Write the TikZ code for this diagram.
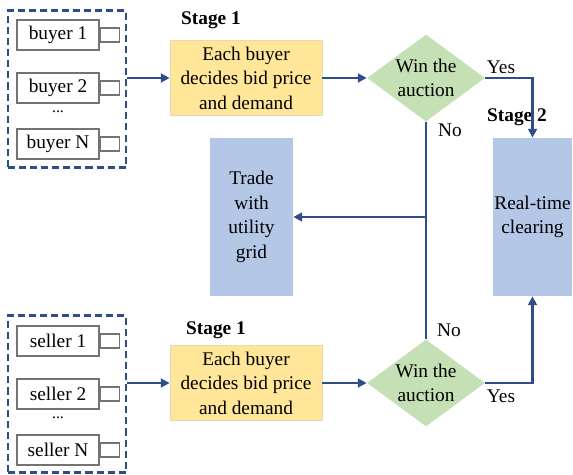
\documentclass[tikz,border=0pt]{standalone}
\usepackage{fontspec}
\setmainfont{Liberation Serif}
\usetikzlibrary{arrows.meta,shapes.geometric}

\definecolor{flowblue}{RGB}{47,77,137}
\definecolor{stagefill}{RGB}{255,230,153}
\definecolor{stageline}{RGB}{228,218,180}
\definecolor{decfill}{RGB}{197,224,180}
\definecolor{gridfill}{RGB}{180,199,231}

\begin{document}
\begin{tikzpicture}[x=0.02cm,y=-0.02cm,font=\fontsize{11}{14}\selectfont]
\useasboundingbox (0,0) rectangle (573,475);

% dashed groups
\begin{scope}[every node/.style={draw=flowblue,line width=1.3pt,dash pattern=on 4pt off 2.3pt,minimum width=2.36cm,minimum height=3.14cm}]
    \node (buyers) at (67,89) {};
    \node (sellers) at (67,394) {};
\end{scope}

\begin{scope}[every node/.style={draw=black!55,line width=0.75pt,fill=white,minimum width=1.64cm,minimum height=0.6cm,inner sep=0pt}]
    \node (buyer1) at (58,35) {buyer 1};
    \node (buyer2) at (58,88) {buyer 2};
    \node (buyerN) at (58,144) {buyer N};
    \node (seller1) at (58,341) {seller 1};
    \node (seller2) at (58,394) {seller 2};
    \node (sellerN) at (58,450) {seller N};
\end{scope}

% little ports on the right of each agent
\begin{scope}[every node/.style={draw=black!55,line width=0.75pt,fill=white,minimum width=0.38cm,minimum height=0.28cm,inner sep=0pt,anchor=west}]
    \node (port_b1) at (buyer1.east) {};
    \node (port_b2) at (buyer2.east) {};
    \node (port_bN) at (buyerN.east) {};
    \node (port_s1) at (seller1.east) {};
    \node (port_s2) at (seller2.east) {};
    \node (port_sN) at (sellerN.east) {};
\end{scope}

\node[font=\fontsize{9}{11}\selectfont] (buyer_dots) at (58,112) {...};
\node[font=\fontsize{9}{11}\selectfont] (seller_dots) at (58,418) {...};

\begin{scope}[every node/.style={fill=stagefill,draw=stageline,minimum width=3.04cm,minimum height=1.5cm,align=center,inner sep=1pt}]
    \node (bid_buy) at (246,78) {Each buyer\\decides bid price\\and demand};
    \node (bid_sell) at (246,383) {Each buyer\\decides bid price\\and demand};
\end{scope}

\begin{scope}[every node/.style={diamond,fill=decfill,shape aspect=1.36,inner sep=0pt,minimum width=2.36cm,minimum height=1.74cm,align=center}]
    \node (win_buy) at (426,78) {Win the\\auction};
    \node (win_sell) at (426,383) {Win the\\auction};
\end{scope}

\begin{scope}[every node/.style={fill=gridfill,minimum height=3.16cm,align=center,inner sep=1pt}]
    \node[minimum width=1.66cm] (utility) at (251.5,217) {Trade\\with\\utility\\grid};
    \node[minimum width=1.58cm] (clearing) at (532.5,217) {Real-time\\clearing};
\end{scope}

% stage titles and branch labels
\node (stage1_buy) at (211,20) {\textbf{Stage 1}};
\node (stage1_sell) at (216,330) {\textbf{Stage 1}};
\node (stage2) at (517,117) {\textbf{Stage 2}};
\node (yes_buy) at (501,67) {Yes};
\node (no_buy) at (450,130) {No};
\node (no_sell) at (449,330) {No};
\node (yes_sell) at (501,396) {Yes};

\begin{scope}[>={Triangle[length=5pt,width=5pt]},
              link/.style={draw=flowblue,line width=1.4pt},
              every edge/.style={link}]
    \path [->] (buyers.east |- bid_buy.west) edge (bid_buy.west);
    \path [->] (bid_buy) edge (win_buy);
    \path [->] (sellers.east |- bid_sell.west) edge (bid_sell.west);
    \path [->] (bid_sell) edge (win_sell);
    \path (win_buy) edge (win_sell);
    \path [->] (win_buy.south |- utility.east) edge (utility.east);
    \draw [link,->] (win_buy.east) -| (clearing.north);
    \draw [link,->] (win_sell.east) -| (clearing.south);
\end{scope}
\end{tikzpicture}
\end{document}
